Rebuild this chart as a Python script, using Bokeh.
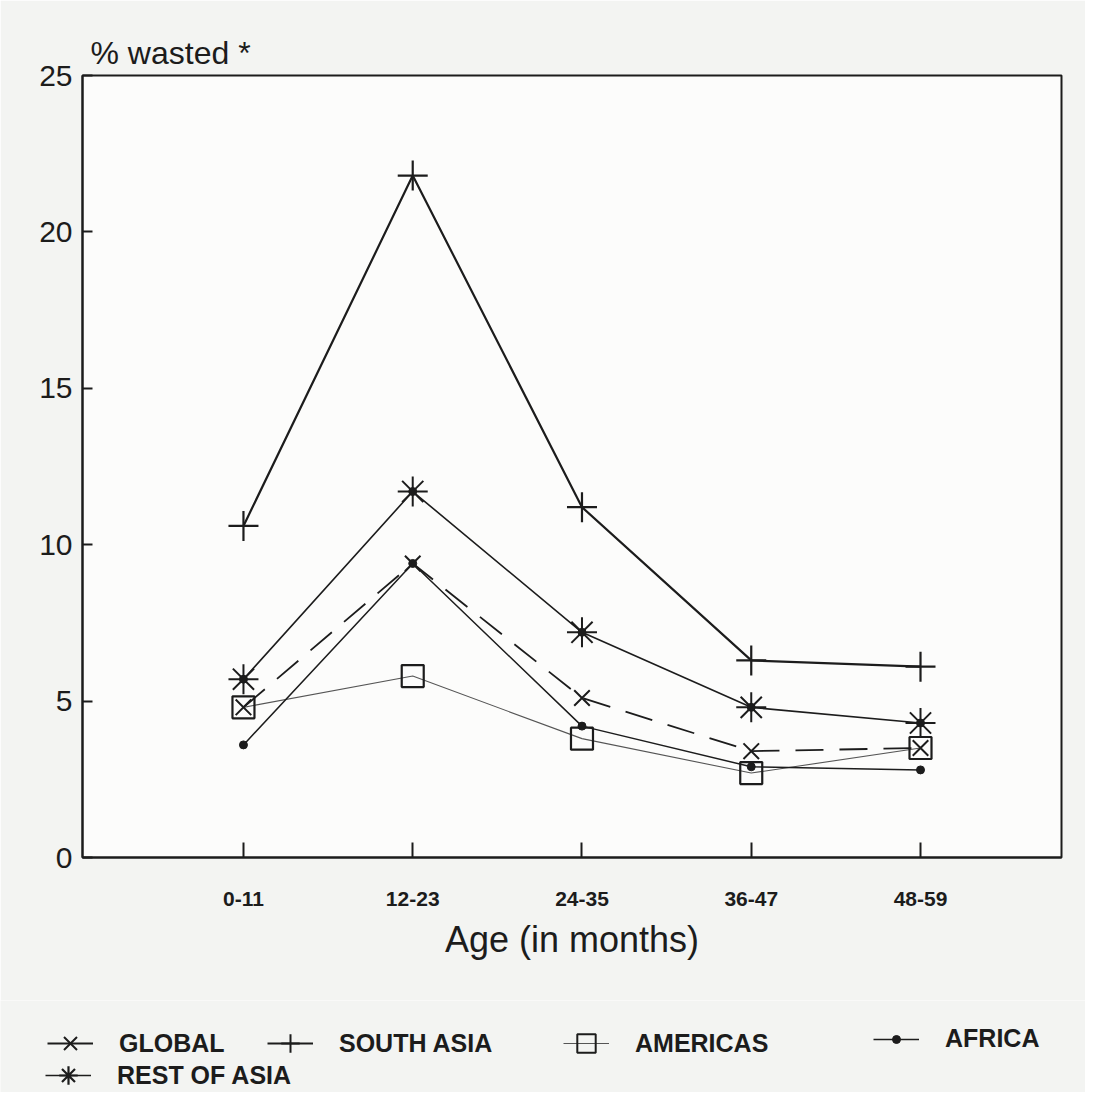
from bokeh.plotting import figure
from bokeh.layouts import column
from bokeh.models import ColumnDataSource, Legend, LegendItem, FixedTicker, Range1d
from bokeh.embed import file_html
from bokeh.resources import INLINE

# ---- data ----
age_groups = ["0-11", "12-23", "24-35", "36-47", "48-59"]
global_vals = [4.8, 9.4, 5.1, 3.4, 3.5]
south_asia = [10.6, 21.8, 11.2, 6.3, 6.1]
americas = [4.8, 5.8, 3.8, 2.7, 3.5]
africa = [3.6, 9.4, 4.2, 2.9, 2.8]
rest_of_asia = [5.7, 11.7, 7.2, 4.8, 4.3]
y_ticks = [0, 5, 10, 15, 20, 25]
series_labels = ["GLOBAL", "SOUTH ASIA", "AMERICAS", "AFRICA", "REST OF ASIA"]

x_pos = list(range(1, len(age_groups) + 1))
src = ColumnDataSource(dict(x=x_pos, glob=global_vals, sa=south_asia, am=americas,
                            af=africa, ra=rest_of_asia))

INK = "#1c1c1c"
FONT = "Liberation Sans"
PAPER = "#f3f4f2"

line_styles = {
    "glob": dict(line_color=INK, line_width=1.8, line_dash="28 16"),
    "sa": dict(line_color=INK, line_width=2.2),
    "am": dict(line_color="#555555", line_width=1.1),
    "af": dict(line_color=INK, line_width=1.5),
    "ra": dict(line_color=INK, line_width=1.6),
}
marker_styles = {
    "glob": [dict(marker="x", size=22, line_color=INK, line_width=2)],
    "sa": [dict(marker="cross", size=30, line_color=INK, line_width=2.2)],
    "am": [dict(marker="square", size=22, line_color=INK, line_width=2.2, fill_alpha=0)],
    "af": [dict(marker="circle", size=8, line_color=INK, fill_color=INK)],
    "ra": [dict(marker="asterisk", size=30, line_color=INK, line_width=2),
           dict(marker="circle", size=8, line_color=INK, fill_color=INK)],
}
# legend keys (marker size there follows the key box size)
legend_line_styles = dict(line_styles)
legend_line_styles["glob"] = dict(line_color=INK, line_width=1.8)
legend_marker_styles = {
    "glob": [dict(marker="x", line_color=INK, line_width=2)],
    "sa": [dict(marker="cross", line_color=INK, line_width=2)],
    "am": [dict(marker="square", line_color=INK, line_width=2, fill_alpha=0)],
    "af": [dict(marker="circle", line_color=INK, fill_color=INK)],
    "ra": [dict(marker="asterisk", line_color=INK, line_width=2.2)],
}
keys = ["glob", "sa", "am", "af", "ra"]

# ---- main chart ----
p = figure(width=1085, height=1000, output_backend="svg", toolbar_location=None,
           x_range=Range1d(0.049, 5.833), y_range=Range1d(0, 25),
           min_border_left=82, min_border_right=24, min_border_top=75, min_border_bottom=143)
p.background_fill_color = "#fcfcfb"
p.border_fill_color = PAPER
p.outline_line_color = INK
p.outline_line_width = 2
p.grid.visible = False

p.title.text = "% wasted *"
p.title.text_font = FONT
p.title.text_font_size = "32px"
p.title.text_font_style = "normal"
p.title.text_color = INK
p.title.align = "left"
p.title.offset = 8
p.title.standoff = 10

p.xaxis.ticker = FixedTicker(ticks=x_pos)
p.xaxis.major_label_overrides = {x: g for x, g in zip(x_pos, age_groups)}
p.xaxis.major_tick_in = 15
p.xaxis.major_tick_out = 0
p.xaxis.minor_tick_line_color = None
p.xaxis.major_label_standoff = 34
p.xaxis.major_label_text_font = FONT
p.xaxis.major_label_text_font_size = "21px"
p.xaxis.major_label_text_font_style = "bold"
p.xaxis.major_label_text_color = INK
p.xaxis.axis_label = "Age (in months)"
p.xaxis.axis_label_text_font = FONT
p.xaxis.axis_label_text_font_size = "36px"
p.xaxis.axis_label_text_font_style = "normal"
p.xaxis.axis_label_text_color = INK
p.xaxis.axis_label_standoff = 10

p.yaxis.ticker = FixedTicker(ticks=y_ticks)
p.yaxis.major_tick_in = 10
p.yaxis.major_tick_out = 0
p.yaxis.minor_tick_line_color = None
p.yaxis.major_label_standoff = 10
p.yaxis.major_label_text_font = FONT
p.yaxis.major_label_text_font_size = "30px"
p.yaxis.major_label_text_color = INK

for ax in (p.xaxis, p.yaxis):
    ax.axis_line_color = INK
    ax.axis_line_width = 2
    ax.major_tick_line_color = INK
    ax.major_tick_line_width = 2

for k in keys:
    p.line("x", k, source=src, **line_styles[k])
for k in keys:
    for ms in marker_styles[k]:
        p.scatter("x", k, source=src, **ms)

# ---- legend strip below the chart (its own renderers are kept out of view) ----
lg_fig = figure(width=1085, height=92, output_backend="svg", toolbar_location=None,
                x_range=Range1d(-100, -99), y_range=Range1d(0, 1),
                x_axis_location=None, y_axis_location=None,
                min_border_left=0, min_border_right=0, min_border_top=0, min_border_bottom=0)
lg_fig.outline_line_color = None
lg_fig.background_fill_color = PAPER
lg_fig.border_fill_color = PAPER
lg_fig.grid.visible = False

origin = 0
if "frame_align" in lg_fig.properties():
    lg_fig.frame_align = False
    p.frame_align = False
else:
    origin = 82

# (left, vertical centre from strip bottom, key box height)
legend_pos = {"glob": (47, 49, 50), "sa": (267, 49, 50), "am": (563, 49, 50),
              "af": (873, 49, 20), "ra": (45, 17, 50)}

for k, lab in zip(keys, series_labels):
    rs = [lg_fig.line("x", k, source=src, **legend_line_styles[k])]
    for ms in legend_marker_styles[k]:
        rs.append(lg_fig.scatter("x", k, source=src, **ms))
    lx, lc, gh = legend_pos[k]
    lg = Legend(items=[LegendItem(label=lab, renderers=rs)],
                location=(max(lx - origin, 0), lc - gh // 2),
                orientation="horizontal", padding=0, margin=0, spacing=0,
                glyph_width=46, glyph_height=gh, label_standoff=26, label_height=gh,
                border_line_alpha=0, background_fill_alpha=0,
                label_text_font="Liberation Sans Narrow, Liberation Sans",
                label_text_font_style="bold",
                label_text_font_size="25px", label_text_color=INK)
    lg_fig.add_layout(lg)

layout = column(p, lg_fig, spacing=0)
open("out.html", "w").write(file_html(layout, INLINE))
